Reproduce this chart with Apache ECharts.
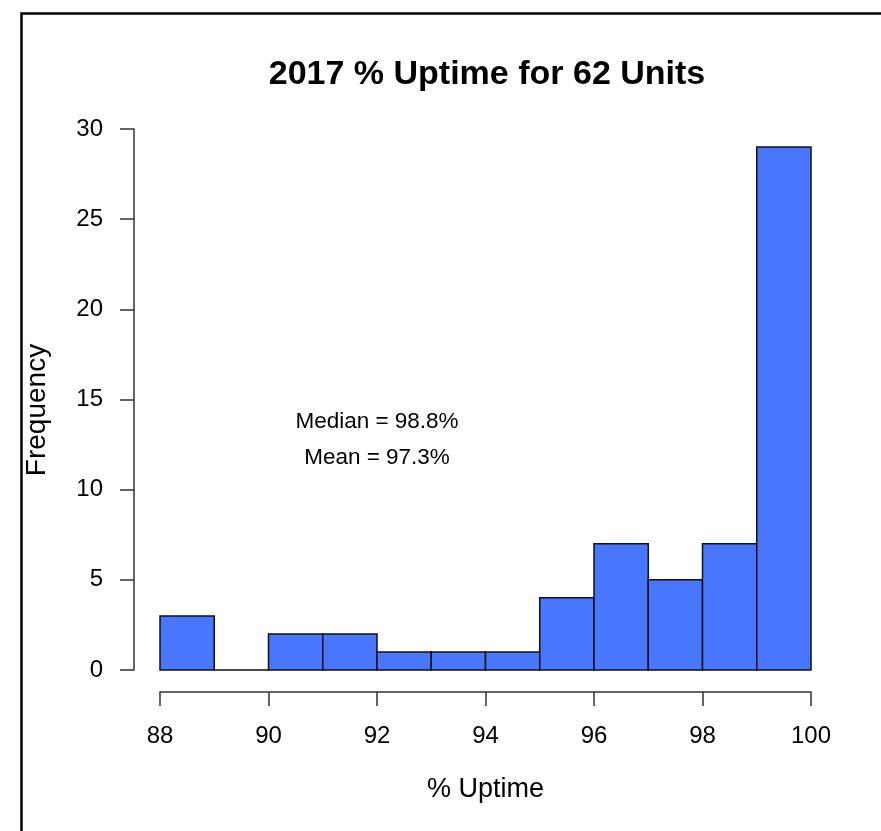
<!DOCTYPE html>
<html>
<head>
<meta charset="utf-8">
<script src="https://cdn.jsdelivr.net/npm/echarts@6/dist/echarts.min.js"></script>
<style>
html,body{margin:0;padding:0;background:#fff;}
#chart{width:881px;height:831px;}
</style>
</head>
<body>
<div id="chart"></div>
<script>
// Histogram bins (left edge, right edge) and counts
var binStarts = [88, 89, 90, 91, 92, 93, 94, 95, 96, 97, 98, 99];
var binEnds   = [89, 90, 91, 92, 93, 94, 95, 96, 97, 98, 99, 100];
var counts    = [3, 0, 2, 2, 1, 1, 1, 4, 7, 5, 7, 29];

// Axis ranges / ticks
var xMin = 88, xMax = 100, xStep = 2;
var yMin = 0, yMax = 30, yStep = 5;

// Annotation texts and their data-space anchors
var noteTexts = ['Median = 98.8%', 'Mean = 97.3%'];
var noteX = [92, 92];
var noteY = [14, 12];

var titleText = '2017 % Uptime for 62 Units';
var xTitle = '% Uptime';
var yTitle = 'Frequency';

var font = '"Liberation Sans", Arial, sans-serif';

var histData = binStarts.map(function (s, i) { return [s, binEnds[i], counts[i]]; });
var noteData = noteTexts.map(function (t, i) { return { value: [noteX[i], noteY[i]], name: t }; });

var chart = echarts.init(document.getElementById('chart'), null, { renderer: 'canvas' });
chart.setOption({
  backgroundColor: '#ffffff',
  animation: false,
  title: {
    text: titleText,
    left: 482,
    top: 53,
    textAlign: 'center',
    textStyle: { fontFamily: font, fontSize: 34, fontWeight: 'bold', color: '#000' }
  },
  graphic: [{
    type: 'rect',
    left: 19, top: 11,
    shape: { width: 1000, height: 1000 },
    style: { fill: 'none', stroke: '#000', lineWidth: 2.5 },
    silent: true
  }, {
    type: 'text',
    x: 37, y: 410,
    rotation: Math.PI / 2,
    style: {
      text: yTitle, fontFamily: font, fontSize: 28, fill: '#000',
      align: 'center', verticalAlign: 'middle'
    },
    silent: true
  }],
  grid: { left: 160, right: 70, top: 129, bottom: 161, containLabel: false },
  xAxis: {
    type: 'value',
    min: xMin, max: xMax, interval: xStep,
    offset: 22,
    name: xTitle,
    nameLocation: 'middle',
    nameGap: 84,
    nameTextStyle: { fontFamily: font, fontSize: 27, color: '#000' },
    axisLine: { show: true, onZero: false, lineStyle: { color: '#333', width: 1.5 } },
    axisTick: { show: true, length: 14, lineStyle: { color: '#333', width: 1.5 } },
    axisLabel: { fontFamily: font, fontSize: 24, color: '#000', margin: 32 },
    splitLine: { show: false }
  },
  yAxis: {
    type: 'value',
    min: yMin, max: yMax, interval: yStep,
    offset: 26,
    axisLine: { show: true, onZero: false, lineStyle: { color: '#333', width: 1.5 } },
    axisTick: { show: true, length: 14, lineStyle: { color: '#333', width: 1.5 } },
    axisLabel: { fontFamily: font, fontSize: 24, color: '#000', margin: 31 },
    splitLine: { show: false }
  },
  series: [{
    type: 'custom',
    data: histData,
    encode: { x: [0, 1], y: 2 },
    renderItem: function (params, api) {
      var p0 = api.coord([api.value(0), 0]);
      var p1 = api.coord([api.value(1), api.value(2)]);
      return {
        type: 'rect',
        shape: { x: p0[0], y: p1[1], width: p1[0] - p0[0], height: p0[1] - p1[1] },
        style: { fill: '#4876FF', stroke: '#111', lineWidth: 1.5 }
      };
    }
  }, {
    type: 'scatter',
    data: noteData,
    symbolSize: 0,
    silent: true,
    itemStyle: { opacity: 1 },
    label: {
      show: true,
      position: 'inside',
      offset: [0, 4],
      formatter: function (p) { return p.name; },
      fontFamily: font, fontSize: 22.5, color: '#000', opacity: 1
    }
  }]
});
</script>
</body>
</html>
